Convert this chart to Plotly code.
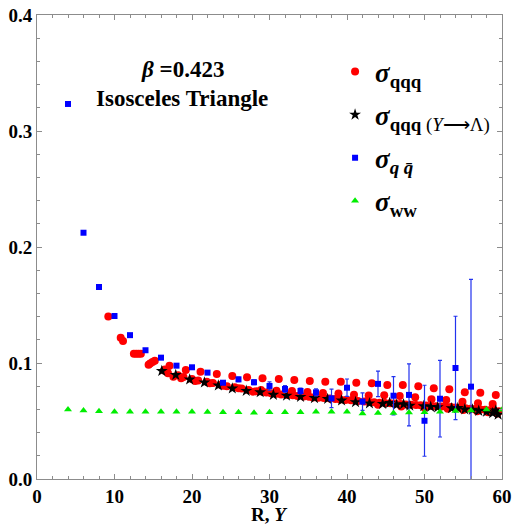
import plotly.graph_objects as go

# sigma_qqq (red circles)
qqq_x = [9.2, 10.8, 11.1, 12.5, 12.8, 13.1, 13.4, 14.4, 14.6, 14.9, 15.2,
         16.5, 16.9, 17.1, 17.6, 18.6, 19.2, 20.4, 21.1, 22.3, 23.2, 24.0, 25.2, 26.0, 27.1, 27.9,
         29.1, 31.2, 33.2, 35.2, 37.2, 39.2, 41.2, 43.2, 45.2, 47.2, 49.2, 51.2, 53.2, 55.2, 57.2, 59.2,
         28.9, 30.9, 32.9, 34.9, 36.9, 38.9, 40.9, 42.8, 44.8, 46.8, 48.8, 50.9, 52.8, 54.9, 56.9, 58.8,
         16.4, 16.8, 18.2, 18.9, 20.0, 20.8, 21.9, 22.7, 23.7, 24.5, 25.5, 26.4, 27.3, 28.3, 29.1, 29.6,
         30.2, 30.9, 31.5, 32.4, 33.0, 33.6, 34.4, 35.1, 35.6, 36.3, 37.0, 37.8, 38.5, 39.1, 39.8, 40.5,
         41.4, 42.2, 42.8, 43.5, 44.2, 44.9, 45.6, 46.2, 46.9, 47.6, 48.3, 48.9, 49.5, 50.2, 50.9, 51.5,
         52.2, 52.8, 53.4, 54.0, 54.6, 55.3, 55.9, 56.5, 57.2, 57.8, 58.4, 59.0, 59.6,
         44.0, 47.0, 50.0, 53.0, 55.0, 56.8, 58.2, 59.4]
qqq_y = [0.1400, 0.1218, 0.1190, 0.1080, 0.1080, 0.1080, 0.1080, 0.0985, 0.0995, 0.1008, 0.1020,
         0.0945, 0.0911, 0.0977, 0.0882, 0.0868, 0.0940, 0.0845, 0.0925, 0.0825, 0.0905, 0.0804, 0.0888, 0.0782, 0.0877, 0.0753,
         0.0868, 0.0862, 0.0853, 0.0845, 0.0839, 0.0839, 0.0830, 0.0825, 0.0810, 0.0810, 0.0800, 0.0782, 0.0773, 0.0747, 0.0744, 0.0724,
         0.0767, 0.0761, 0.0759, 0.0750, 0.0741, 0.0736, 0.0726, 0.0720, 0.0722, 0.0716, 0.0704, 0.0687, 0.0680, 0.0667, 0.0652, 0.0647,
         0.0935, 0.0925, 0.0895, 0.0880, 0.0862, 0.0850, 0.0838, 0.0828, 0.0812, 0.0800, 0.0790, 0.0780, 0.0768, 0.0757, 0.0753, 0.0745,
         0.0740, 0.0735, 0.0728, 0.0725, 0.0722, 0.0716, 0.0712, 0.0708, 0.0703, 0.0700, 0.0698, 0.0694, 0.0690, 0.0686, 0.0682, 0.0678,
         0.0672, 0.0668, 0.0664, 0.0662, 0.0658, 0.0656, 0.0652, 0.0650, 0.0647, 0.0643, 0.0640, 0.0638, 0.0636, 0.0633, 0.0630, 0.0627,
         0.0625, 0.0622, 0.0620, 0.0617, 0.0614, 0.0610, 0.0606, 0.0603, 0.0600, 0.0597, 0.0592, 0.0588, 0.0585,
         0.0640, 0.0625, 0.0615, 0.0605, 0.0595, 0.0585, 0.0575, 0.0565]

# sigma_qqq with Y -> Lambda (black stars)
lam_x = [16.1, 17.9, 19.7, 21.6, 23.4, 25.2, 27.0, 28.8, 30.5, 32.2, 34.0, 35.8, 37.5, 39.3,
         41.1, 42.9, 44.6, 45.5, 46.4, 47.3, 48.1, 49.9, 50.8, 51.7, 53.5, 54.3, 55.2, 56.2,
         57.0, 58.0, 58.8, 59.2, 59.5]
lam_y = [0.0931, 0.0897, 0.0858, 0.0832, 0.0806, 0.0780, 0.0760, 0.0748, 0.0726, 0.0718, 0.0708,
         0.0698, 0.0690, 0.0677, 0.0663, 0.0652, 0.0648, 0.0655, 0.0640, 0.0645, 0.0632, 0.0628,
         0.0622, 0.0618, 0.0610, 0.0612, 0.0600, 0.0598, 0.0588, 0.0580, 0.0568, 0.0590, 0.0555]

# sigma_q qbar (blue squares with error bars)
qq_x = [4, 6, 8, 10, 12, 14, 16, 18, 20, 22, 24, 26, 28, 30, 32, 34, 36, 38, 40, 42, 44, 46, 48, 50, 52, 54, 56]
qq_y = [0.3233, 0.2123, 0.1655, 0.1405, 0.1240, 0.1110, 0.1046, 0.0977, 0.0963, 0.0917, 0.0830, 0.0859,
        0.0834, 0.0802, 0.0776, 0.0759, 0.0747, 0.0695, 0.0787, 0.0667, 0.0820, 0.0718, 0.0725, 0.0502,
        0.0692, 0.0957, 0.0796]
qq_err = [0, 0, 0, 0, 0, 0, 0, 0, 0.001, 0.0015, 0.001, 0.002, 0.002, 0.0035, 0.003, 0.0025, 0.003,
          0.008, 0.0075, 0.0076, 0.011, 0.0165, 0.0267, 0.0306, 0.033, 0.0446, 0.0925]

# sigma_WW (green triangles)
ww_x = [4, 6, 8, 10, 12, 14, 16, 18, 20, 22, 24, 26, 28, 30, 32, 34, 36, 38, 40, 42, 44, 46, 48, 50,
        52, 54, 56, 58, 60]
ww_y = [0.0600, 0.0590, 0.0585, 0.0580, 0.0580, 0.0580, 0.0580, 0.0580, 0.0580, 0.0578, 0.0575, 0.0575,
        0.0572, 0.0575, 0.0575, 0.0575, 0.0580, 0.0580, 0.0580, 0.0565, 0.0568, 0.0570, 0.0573, 0.0576,
        0.0580, 0.0586, 0.0590, 0.0600, 0.0598]

SERIF = "Liberation Serif"
FRAME = "#8c8c8c"

fig = go.Figure()
fig.add_trace(go.Scatter(
    x=qqq_x, y=qqq_y, mode="markers", legendgroup="a",
    name="<b><i>σ</i><sub>qqq</sub></b>",
    marker=dict(symbol="circle", size=8, color="#ff0000", line=dict(width=0))))
fig.add_trace(go.Scatter(
    x=lam_x, y=lam_y, mode="markers", legendgroup="b",
    name="<b><i>σ</i><sub>qqq</sub></b><sub> (<i>Y</i>⟶Λ)</sub>",
    marker=dict(symbol="star", size=9, color="#000000", line=dict(width=0))))
fig.add_trace(go.Scatter(
    x=qq_x, y=qq_y, mode="markers", legendgroup="c",
    name="<b><i>σ</i><sub><i>q q̄</i></sub></b>",
    error_y=dict(type="data", array=qq_err, color="#2233ee", thickness=1.2, width=2),
    marker=dict(symbol="square", size=6, color="#0000ff", line=dict(width=0))))
fig.add_trace(go.Scatter(
    x=ww_x, y=ww_y, mode="markers", legendgroup="d",
    name="<b><i>σ</i><sub>ww</sub></b>",
    marker=dict(symbol="triangle-up", size=7, color="#00ee00", line=dict(width=0))))

axis_common = dict(
    showline=True, linecolor=FRAME, linewidth=1, mirror="ticks",
    ticks="inside", ticklen=5, tickcolor=FRAME, tickwidth=1,
    showgrid=False, zeroline=False, automargin=False,
    tickfont=dict(family=SERIF, size=19, color="#000000", weight="bold"),
)
fig.update_xaxes(range=[0, 60], dtick=10, tick0=0,
                 minor=dict(dtick=2, ticks="inside", ticklen=3, tickcolor=FRAME),
                 **axis_common)
fig.update_yaxes(range=[0, 0.4], dtick=0.1, tick0=0, tickformat=".1f",
                 minor=dict(dtick=0.02, ticks="inside", ticklen=3, tickcolor=FRAME),
                 **axis_common)

fig.add_annotation(xref="paper", yref="paper", x=0.5, y=-0.076, showarrow=False,
                   text="<b>R, <i>Y</i></b>", font=dict(family=SERIF, size=19, color="#000"),
                   xanchor="center", yanchor="middle")
fig.add_annotation(xref="paper", yref="paper", x=0.312, y=0.8815, showarrow=False,
                   text="<b><i>β</i> =0.423</b>", font=dict(family=SERIF, size=23, color="#000"),
                   xanchor="center", yanchor="middle")
fig.add_annotation(xref="paper", yref="paper", x=0.312, y=0.8211, showarrow=False,
                   text="<b>Isosceles Triangle</b>", font=dict(family=SERIF, size=23, color="#000"),
                   xanchor="center", yanchor="middle")

fig.update_layout(
    template="none",
    width=512, height=528,
    margin=dict(l=37, r=10, t=15, b=49, autoexpand=False),
    paper_bgcolor="white", plot_bgcolor="white",
    showlegend=True,
    legend=dict(x=0.641, y=0.93, xanchor="left", yanchor="top",
                bgcolor="rgba(0,0,0,0)", font=dict(family=SERIF, size=27, color="#000"),
                tracegroupgap=5, itemsizing="trace"),
)

fig.write_html("out.html")
